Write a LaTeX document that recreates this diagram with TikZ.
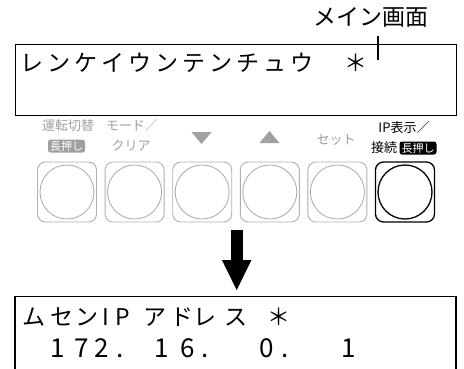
\documentclass[tikz,border=0pt]{standalone}
\usepackage{fontspec}
\setmainfont{Noto Sans CJK JP}
\newfontfamily\cjk{Noto Sans CJK JP}
\usetikzlibrary{arrows.meta,calc}
\definecolor{labgray}{RGB}{160,160,160}
\definecolor{btngray}{RGB}{175,175,175}
\begin{document}
\begin{tikzpicture}[x=1pt,y=-1pt,
  lcd/.style={font=\cjk\fontsize{23}{23}\selectfont, inner sep=0pt, anchor=base},
  lcdnum/.style={font=\cjk\fontsize{26}{26}\selectfont, inner sep=0pt, anchor=base},
  glabel/.style={font=\cjk\fontsize{13}{13}\selectfont, text=labgray, inner sep=0pt},
  klabel/.style={font=\cjk\fontsize{13}{13}\selectfont, text=black, inner sep=0pt},
  badge/.style={font=\cjk\fontsize{11}{11}\selectfont, text=white, rounded corners=2.5pt, inner xsep=2pt, inner ysep=0.8pt, minimum height=13pt},
  btn/.style={draw=btngray, line width=0.9pt, rounded corners=8pt, minimum width=59pt, minimum height=60pt, inner sep=0pt},
  knob/.style={draw=btngray, line width=0.9pt, circle, minimum size=54pt, inner sep=0pt},
  tri/.style={fill=labgray}
]
\useasboundingbox (0,0) rectangle (464,368);
\clip (0,0) rectangle (464,368);

% label and leader
\node[font=\cjk\fontsize{23}{23}\selectfont, inner sep=0pt] (mainlbl) at (371,17) {メイン画面};
\coordinate (ldtop) at (378,36);
\coordinate (ldbot) at (378,60);
\draw[line width=1.8pt] (ldtop) -- (ldbot);

% top LCD box
\node[draw, line width=1.1pt, minimum width=441pt, minimum height=71.5pt, inner sep=0pt, anchor=north west] (topbox) at (15,43.5) {};
\foreach \xx/\ch [count=\i] in {31.7/レ,58.7/ン,85.7/ケ,112.7/イ,139.7/ウ,166.7/ン,193.7/テ,220.7/ン,247.7/チ,274.7/ュ,301.7/ウ,355.7/＊}
  \node[lcd] (t\i) at (\xx,71.2) {\ch};

% button labels
\node[glabel] (l1) at (68,126) {運転切替};
\node[badge, fill=labgray] (l1b) at (66.5,146) {長押し};
\node[glabel] (l2) at (132,126) {モード／};
\node[glabel] (l2b) at (131,146) {クリア};
\coordinate (tv) at (201.5,138);
\fill[tri] ($(tv)+(-10,-6)$) -- ($(tv)+(10,-6)$) -- ($(tv)+(0,6)$) -- cycle;
\coordinate (ta) at (269.5,137);
\fill[tri] ($(ta)+(-10,6)$) -- ($(ta)+(10,6)$) -- ($(ta)+(0,-6)$) -- cycle;
\node[glabel] (l5) at (336,140) {セット};
\node[klabel] (l6) at (404,128) {IP表示／};
\node[klabel] (l6a) at (384,148) {接続};
\node[badge, fill=black] (l6b) at (418,148) {長押し};

% buttons
\foreach \xx [count=\i] in {67,134.6,202.2,269.8,337.4}{
  \node[btn] (b\i) at (\xx,192) {};
  \node[knob] (k\i) at (b\i.center) {};
}
\node[btn, draw=black, line width=1.3pt] (b6) at (405,192) {};
\node[knob, draw=black, line width=1.3pt] (k6) at (b6.center) {};

% arrow
\coordinate (arrA) at (236.7,230);
\coordinate (arrB) at (236.7,291);
\draw[line width=12pt, -{Triangle[width=27pt,length=31pt]}] (arrA) -- (arrB);

% bottom LCD box
\coordinate (bb1) at (15,380);
\coordinate (bb2) at (15,296.5);
\coordinate (bb3) at (456,296.5);
\coordinate (bb4) at (456,380);
\draw[line width=1.1pt] (bb1) -- (bb2) -- (bb3) -- (bb4);
\foreach \xx/\ch [count=\i] in {34.5/ム,61.5/セ,86.5/ン,106/I,123/P,155/ア,182/ド,205/レ,236/ス,279/＊}
  \node[lcd] (r\i) at (\xx,325.5) {\ch};
\foreach \xx/\ch [count=\i] in {58/1,82/7,102/2,120/.,162/1,188/6,205/.,267/0,285/.,349/1}
  \node[lcdnum] (n\i) at (\xx,357.5) {\ch};
\end{tikzpicture}
\end{document}
